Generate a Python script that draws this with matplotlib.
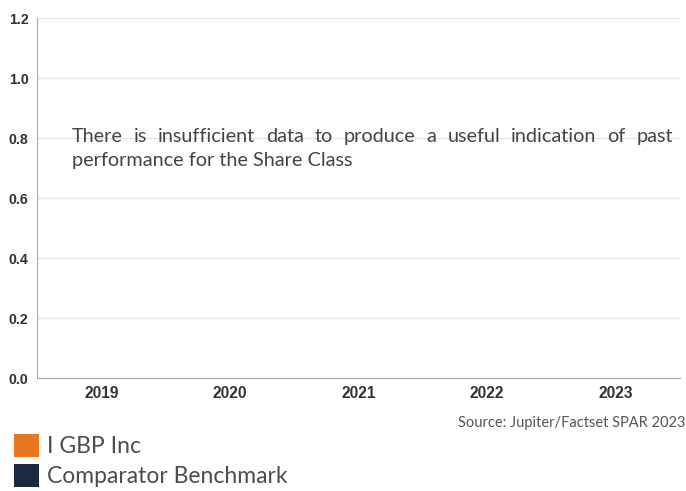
import matplotlib
matplotlib.use("Agg")
import matplotlib.pyplot as plt
from matplotlib.patches import Patch
import numpy as np

# ── data ──────────────────────────────────────────────────────────────────
years = ["2019", "2020", "2021", "2022", "2023"]
fund_returns = [np.nan, np.nan, np.nan, np.nan, np.nan]        # I GBP Inc
benchmark_returns = [np.nan, np.nan, np.nan, np.nan, np.nan]   # Comparator Benchmark
y_ticks = [0.0, 0.2, 0.4, 0.6, 0.8, 1.0, 1.2]
series_names = ["I GBP Inc", "Comparator Benchmark"]
series_colors = ["#E87722", "#1B2A41"]

message = ("There is insufficient data to produce a useful indication of past "
           "performance for the Share Class")
source = "Source: Jupiter/Factset SPAR 2023"

W, H = 686, 491
fig = plt.figure(figsize=(W / 100, H / 100), dpi=100)
ax = fig.add_axes([37 / W, 113 / H, (680 - 37) / W, 360 / H])

x = np.arange(len(years))
ax.bar(x - 0.2, fund_returns, width=0.4, color=series_colors[0])
ax.bar(x + 0.2, benchmark_returns, width=0.4, color=series_colors[1])

ax.set_xlim(-0.5, len(years) - 0.5)
ax.set_ylim(0, 1.2)
ax.set_yticks(y_ticks)
ax.set_yticklabels([f"{v:.1f}" for v in y_ticks])
ax.set_xticks(x)
ax.set_xticklabels(years)
for lab in ax.get_xticklabels():
    lab.set_fontsize(11.2)
for lab in ax.get_yticklabels():
    lab.set_fontsize(10.2)
for lab in ax.get_xticklabels() + ax.get_yticklabels():
    lab.set_fontweight("bold")
    lab.set_family("Liberation Sans")
    lab.set_color("#333333")
ax.tick_params(axis="both", length=0)
ax.tick_params(axis="x", pad=6)
ax.tick_params(axis="y", pad=6)

ax.grid(axis="y", color="#e6e6e6", linewidth=1)
ax.set_axisbelow(True)
for s in ("top", "right"):
    ax.spines[s].set_visible(False)
ax.spines["left"].set_color("#aaaaaa")
ax.spines["bottom"].set_color("#aaaaaa")

# ── justified message (first line spread to full width) ───────────────────
TXT_FONT = "Lato"
TXT_SIZE = 14.3
left_px, right_px = 72, 673
base1, base2 = 142, 166
line1 = message.split("performance")[0].split()
line2 = "performance" + message.split("performance", 1)[1]

renderer = fig.canvas.get_renderer()
widths = []
for w in line1:
    t = fig.text(0, 0, w, fontsize=TXT_SIZE, family=TXT_FONT)
    widths.append(t.get_window_extent(renderer).width)
    t.remove()
gap = (right_px - left_px - sum(widths)) / (len(line1) - 1)
xpos = left_px
for w, wd in zip(line1, widths):
    fig.text(xpos / W, 1 - base1 / H, w, fontsize=TXT_SIZE, family=TXT_FONT,
             color="#444444", va="baseline", ha="left")
    xpos += wd + gap
fig.text(left_px / W, 1 - base2 / H, line2, fontsize=TXT_SIZE, family=TXT_FONT,
         color="#444444", va="baseline", ha="left")

fig.text(686 / W, 1 - 427 / H, source, fontsize=10.5, family=TXT_FONT,
         color="#555555", ha="right", va="baseline")

# ── legend ────────────────────────────────────────────────────────────────
handles = [Patch(facecolor=c, edgecolor="none", label=n)
           for n, c in zip(series_names, series_colors)]
fig.legend(handles=handles, loc="upper left", bbox_to_anchor=(14 / W, 1 - 434 / H),
           frameon=False, prop={"family": TXT_FONT, "size": 16.5},
           handlelength=1.1, handleheight=1.15, handletextpad=0.35,
           labelspacing=0.3, borderpad=0.0, borderaxespad=0.0,
           labelcolor="#4d4d4d")

fig.savefig("out.png", dpi=100)
